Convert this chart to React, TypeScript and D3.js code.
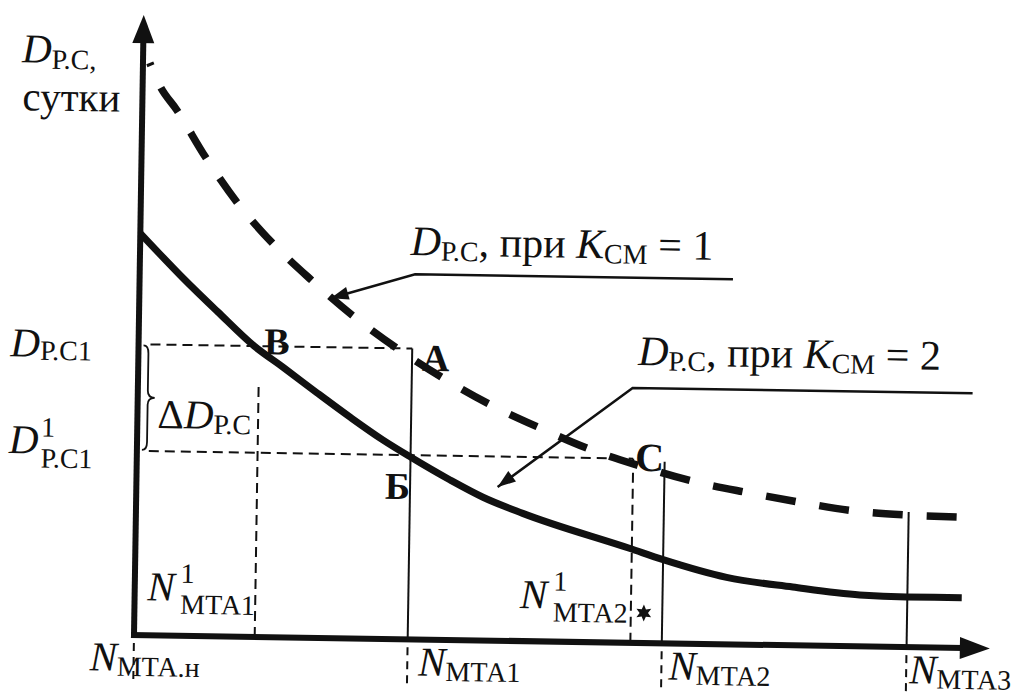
import React from "react";
import * as d3 from "d3";

const W = 1019;
const H = 697;

// Solid curve: D(Р.С) at K(СМ) = 2 — abscissa N(МТА), ordinate days
const solidN = [0, 0.51, 0.92, 1.36, 1.71, 2.11, 2.51, 2.89, 3.22, 3.69, 4.08, 4.55, 5.82, 6.21, 6.96, 7.74, 8.53, 9.08, 9.73];
const solidD = [6.48, 5.77, 5.24, 4.69, 4.35, 3.95, 3.56, 3.21, 2.94, 2.58, 2.31, 2.06, 1.52, 1.35, 1.08, 0.94, 0.83, 0.81, 0.81];

// Dashed curve: D(Р.С) at K(СМ) = 1
const dashedN = [0.08, 0.2, 0.41, 0.75, 1.14, 1.56, 2.02, 2.51, 3.04, 3.59, 4.14, 4.74, 5.35, 5.88, 6.58, 7.2, 7.85, 8.48, 9.11, 9.75];
const dashedD = [9.23, 8.87, 8.47, 7.73, 6.99, 6.35, 5.77, 5.21, 4.69, 4.22, 3.81, 3.44, 3.1, 2.87, 2.61, 2.45, 2.3, 2.18, 2.13, 2.11];

// Characteristic abscissae
const N_H = 0;
const N1_MTA1 = 1.42;
const N_MTA1 = 3.22;
const N1_MTA2 = 5.84;
const N_MTA2 = 6.21;
const N_MTA3 = 9.09;

// Characteristic ordinates
const D_PC1 = 4.69;
const D1_PC1 = 2.97;

// Upper ends of the vertical guides
const topN1MTA1 = 4.1;
const topNMTA2 = 2.93;
const topNMTA3 = 2.18;

// Callout anchors (tip, elbow, end) in data units
const callout1 = [[2.25, 5.48], [3.24, 5.89], [6.98, 5.89]];
const callout2 = [[4.25, 2.48], [5.82, 4.11], [9.82, 4.11]];

const X_MAX = 10.07;
const Y_MAX = 10;

const FONT = "'Liberation Serif', 'Times New Roman', serif";
const INK = "#111";

type Seg = { t: string; sub?: boolean; it?: boolean };

function Rich({ x, y, segs, size = 41, subSize = 28, subDy = 6 }: { x: number; y: number; segs: Seg[]; size?: number; subSize?: number; subDy?: number }) {
  let prev = 0;
  return (
    <text x={x} y={y} fontFamily={FONT} fontSize={size} fill={INK} style={{ whiteSpace: "pre" }}>
      {segs.map((s, i) => {
        const off = s.sub ? subDy : 0;
        const dy = off - prev;
        prev = off;
        return (
          <tspan key={i} dy={dy} fontSize={s.sub ? subSize : size} fontStyle={s.it ? "italic" : "normal"}>
            {s.t}
          </tspan>
        );
      })}
    </text>
  );
}

function arrowHead(tip: [number, number], from: [number, number], len = 18, half = 6.5) {
  const dx = tip[0] - from[0];
  const dy = tip[1] - from[1];
  const L = Math.hypot(dx, dy);
  const ux = dx / L, uy = dy / L;
  const bx = tip[0] - ux * len, by = tip[1] - uy * len;
  return `M${tip[0]},${tip[1]}L${bx - uy * half},${by + ux * half}L${bx + uy * half},${by - ux * half}Z`;
}

export default function App() {
  const x = d3.scaleLinear().domain([0, 10]).range([0, 850]);
  const y = d3.scaleLinear().domain([0, 10]).range([0, -620]);

  const line = d3
    .line<[number, number]>()
    .x((d) => x(d[0]))
    .y((d) => y(d[1]))
    .curve(d3.curveMonotoneX);

  const solidPath = line(solidN.map((n, i) => [n, solidD[i]]) as [number, number][]) || "";
  const dashedPath = line(dashedN.map((n, i) => [n, dashedD[i]]) as [number, number][]) || "";

  const poly = (pts: number[][]) => d3.line()(pts.map((p) => [x(p[0]), y(p[1])]) as [number, number][]) || "";

  const xEnd = x(X_MAX);
  const yEnd = y(Y_MAX);

  // brace spanning ΔD between the two levels
  const bTop = y(D_PC1) + 1;
  const bBot = y(D1_PC1) - 1;
  const bMid = (bTop + bBot) / 2;
  const brace = `M5,${bTop} Q10,${bTop} 10,${bTop + 8} L10,${bMid - 7} Q10,${bMid} 17,${bMid} Q10,${bMid} 10,${bMid + 7} L10,${bBot - 8} Q10,${bBot} 5,${bBot}`;

  // six-pointed star marker
  const sx = x(N1_MTA2) + 13;
  const sy = -30;
  const star = d3.range(12).map((i) => {
    const a = (Math.PI / 6) * i - Math.PI / 2;
    const r = i % 2 === 0 ? 8.5 : 4.2;
    return [sx + r * Math.cos(a), sy + r * Math.sin(a)] as [number, number];
  });
  const starPath = (d3.line()(star) || "") + "Z";

  const c1 = callout1.map((p) => [x(p[0]), y(p[1])] as [number, number]);
  const c2 = callout2.map((p) => [x(p[0]), y(p[1])] as [number, number]);

  const thin = 2;
  const dash = "10 6";

  const bottomLabels: { n: number; dx: number; sub: string }[] = [
    { n: N_H, dx: -44, sub: "МТА.н" },
    { n: N_MTA1, dx: 11, sub: "МТА1" },
    { n: N_MTA2, dx: 7, sub: "МТА2" },
    { n: N_MTA3, dx: 3, sub: "МТА3" },
  ];

  const letter = (t: string, lx: number, ly: number, size = 38) => (
    <text x={lx} y={ly} fontFamily={FONT} fontSize={size} fontWeight="bold" fill={INK}>{t}</text>
  );

  return (
    <svg width={W} height={H} style={{ position: "absolute", left: 0, top: 0, background: "#fff" }}>
      <rect width={W} height={H} fill="#fff" />
      <g transform="translate(134,635) rotate(0.9)">
        {/* guide lines */}
        <line x1={x(0.14)} x2={x(N_MTA1)} y1={y(D_PC1)} y2={y(D_PC1)} stroke={INK} strokeWidth={thin} strokeDasharray={dash} />
        <line x1={x(0.14)} x2={x(N1_MTA2)} y1={y(D1_PC1)} y2={y(D1_PC1)} stroke={INK} strokeWidth={thin} strokeDasharray={dash} />
        <line x1={x(N1_MTA1)} x2={x(N1_MTA1)} y1={0} y2={y(topN1MTA1)} stroke={INK} strokeWidth={thin} strokeDasharray={dash} />
        <line x1={x(N1_MTA2)} x2={x(N1_MTA2)} y1={0} y2={y(D1_PC1)} stroke={INK} strokeWidth={thin} strokeDasharray={dash} />
        <line x1={x(N_MTA1)} x2={x(N_MTA1)} y1={0} y2={y(D_PC1)} stroke={INK} strokeWidth={thin} />
        <line x1={x(N_MTA2)} x2={x(N_MTA2)} y1={0} y2={y(topNMTA2)} stroke={INK} strokeWidth={thin} />
        <line x1={x(N_MTA3)} x2={x(N_MTA3)} y1={0} y2={y(topNMTA3)} stroke={INK} strokeWidth={thin} />
        {[N_H, N_MTA1, N_MTA2, N_MTA3].map((n, i) => (
          <line key={i} x1={x(n)} x2={x(n)} y1={8} y2={50} stroke={INK} strokeWidth={thin} strokeDasharray="8 6" />
        ))}
        <path d={brace} fill="none" stroke={INK} strokeWidth={1.8} />

        {/* curves */}
        <path d={dashedPath} fill="none" stroke={INK} strokeWidth={7.5} strokeDasharray="30 24" strokeDashoffset={27} />
        <path d={solidPath} fill="none" stroke={INK} strokeWidth={7} />

        {/* axes */}
        <line x1={0} x2={0} y1={3} y2={yEnd + 24} stroke={INK} strokeWidth={6} />
        <path d={`M0,${yEnd}L-11,${yEnd + 28}L11,${yEnd + 28}Z`} fill={INK} />
        <line x1={-3} x2={xEnd - 26} y1={0} y2={0} stroke={INK} strokeWidth={6} />
        <path d={`M${xEnd},0L${xEnd - 30},-11L${xEnd - 30},11Z`} fill={INK} />

        {/* callouts */}
        <path d={poly(callout1.slice().reverse())} fill="none" stroke={INK} strokeWidth={2.5} />
        <path d={arrowHead(c1[0], c1[1])} fill={INK} />
        <path d={poly(callout2.slice().reverse())} fill="none" stroke={INK} strokeWidth={2.5} />
        <path d={arrowHead(c2[0], c2[1])} fill={INK} />

        <path d={starPath} fill={INK} />

        {/* axis title */}
        <Rich x={-121} y={-571} segs={[{ t: "D", it: true }, { t: "Р.С,", sub: true }]} />
        <Rich x={-120} y={-523} segs={[{ t: "сутки" }]} />

        {/* ordinate levels */}
        <Rich x={-128} y={y(D_PC1) + 14} segs={[{ t: "D", it: true }, { t: "Р.С1", sub: true }]} subDy={3} />
        <Rich x={-128} y={y(D1_PC1) + 4} segs={[{ t: "D", it: true }]} />
        <Rich x={-96} y={y(D1_PC1) - 13} segs={[{ t: "1" }]} size={28} />
        <Rich x={-96} y={y(D1_PC1) + 18} segs={[{ t: "Р.С1" }]} size={28} />
        <Rich x={20} y={bMid + 30} segs={[{ t: "Δ" }, { t: "D", it: true }, { t: "Р.С", sub: true }]} subDy={5} />

        {/* curve captions */}
        <Rich
          x={c1[1][0] - 5}
          y={c1[1][1] - 19}
          segs={[{ t: "D", it: true }, { t: "Р.С", sub: true }, { t: ", при " }, { t: "K", it: true }, { t: "СМ", sub: true }, { t: " = 1" }]}
          size={42}
          subDy={5}
        />
        <Rich
          x={c2[1][0] + 5}
          y={c2[1][1] - 23}
          segs={[{ t: "D", it: true }, { t: "Р.С", sub: true }, { t: ", при " }, { t: "K", it: true }, { t: "СМ", sub: true }, { t: " = 2" }]}
          size={42}
          subDy={5}
        />

        {/* point letters */}
        {letter("В", x(N1_MTA1) + 5, y(D_PC1) + 8)}
        {letter("А", x(N_MTA1) + 10, y(D_PC1) + 22)}
        {letter("Б", x(N_MTA1) - 25, y(D1_PC1) + 44)}
        {letter("С", x(N1_MTA2) + 2, y(D1_PC1) + 12, 40)}

        {/* abscissa annotations inside the plot */}
        <Rich x={x(N1_MTA1) - 108} y={-35} segs={[{ t: "N", it: true }]} />
        <Rich x={x(N1_MTA1) - 75} y={-53} segs={[{ t: "1" }]} size={28} />
        <Rich x={x(N1_MTA1) - 75} y={-22} segs={[{ t: "МТА1" }]} size={28} />
        <Rich x={x(N1_MTA2) - 111} y={-33} segs={[{ t: "N", it: true }]} />
        <Rich x={x(N1_MTA2) - 78} y={-51} segs={[{ t: "1" }]} size={28} />
        <Rich x={x(N1_MTA2) - 78} y={-20} segs={[{ t: "МТА2" }]} size={28} />

        {/* abscissa labels under the axis */}
        {bottomLabels.map((b, i) => (
          <Rich key={i} x={x(b.n) + b.dx} y={36} segs={[{ t: "N", it: true }, { t: b.sub, sub: true }]} subDy={5} />
        ))}
      </g>
    </svg>
  );
}
